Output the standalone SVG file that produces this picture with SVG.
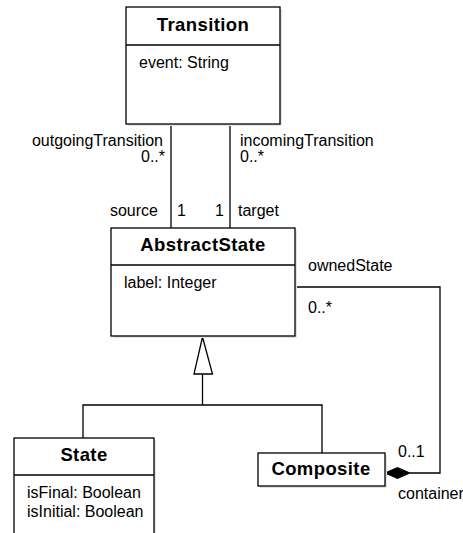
<svg xmlns="http://www.w3.org/2000/svg" width="463" height="533" viewBox="0 0 463 533">
<style>
.box{fill:#fff;stroke:#000;stroke-width:1.3}
.sh{fill:#e2e2e2}
.ln{fill:none;stroke:#000;stroke-width:1.3}
.t{font-family:"Liberation Sans",Arial,sans-serif;font-size:16px;fill:#000}
.b{font-family:"Liberation Sans",Arial,sans-serif;font-size:18.5px;font-weight:bold;fill:#000;text-anchor:middle;letter-spacing:0.4px}
.r{text-anchor:end}
</style>
<rect width="463" height="533" fill="#fff"/>
<g id="connectors">
<line class="ln" x1="171" y1="124" x2="171" y2="228"/>
<line class="ln" x1="230" y1="124" x2="230" y2="228"/>
<polyline class="ln" points="295,287 440,287 440,473 410,473"/>
<polygon points="385,473 397.5,467.5 410,473 397.5,478.5" fill="#000" stroke="#000" stroke-width="1"/>
<polygon points="202.5,337 194,374 212.5,374" fill="#fff" stroke="#000" stroke-width="1.3"/>
<line class="ln" x1="202.5" y1="374" x2="202.5" y2="405"/>
<polyline class="ln" points="83,438 83,405 322,405 322,453"/>
<text class="t r" x="163" y="146">outgoingTransition</text>
<text class="t r" x="165" y="162">0..*</text>
<text class="t" x="240" y="146">incomingTransition</text>
<text class="t" x="240" y="162">0..*</text>
<text class="t r" x="158" y="216">source</text>
<text class="t" x="177" y="216">1</text>
<text class="t r" x="224" y="216">1</text>
<text class="t" x="238" y="216">target</text>
<text class="t" x="308" y="271">ownedState</text>
<text class="t" x="308" y="313">0..*</text>
<text class="t" x="398" y="457">0..1</text>
<text class="t" x="398" y="499">container</text>
</g>
<g id="Transition">
<rect class="sh" x="128" y="9" width="154" height="117"/>
<rect class="box" x="126" y="7" width="154" height="117"/>
<line class="ln" x1="126" y1="45" x2="280" y2="45"/>
<text class="b" x="203" y="31">Transition</text>
<text class="t" x="139" y="68">event: String</text>
</g>
<g id="AbstractState">
<rect class="sh" x="113" y="230" width="184" height="108"/>
<rect class="box" x="111" y="228" width="184" height="108"/>
<line class="ln" x1="111" y1="265" x2="295" y2="265"/>
<text class="b" x="203" y="251">AbstractState</text>
<text class="t" x="124" y="288">label: Integer</text>
</g>
<g id="State">
<rect class="sh" x="16" y="440" width="140" height="100"/>
<rect class="box" x="14" y="438" width="140" height="100"/>
<line class="ln" x1="14" y1="475" x2="154" y2="475"/>
<text class="b" x="84" y="461">State</text>
<text class="t" x="27" y="498">isFinal: Boolean</text>
<text class="t" x="27" y="517">isInitial: Boolean</text>
</g>
<g id="Composite">
<rect class="sh" x="260" y="455" width="127" height="33"/>
<rect class="box" x="258" y="453" width="127" height="33"/>
<text class="b" x="321" y="475">Composite</text>
</g>
</svg>
